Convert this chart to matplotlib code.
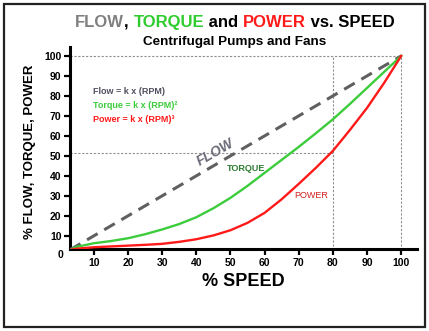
import matplotlib
matplotlib.use("Agg")
import matplotlib.pyplot as plt
from matplotlib.patches import Rectangle

plt.rcParams["font.family"] = ["Liberation Sans", "DejaVu Sans"]
plt.rcParams["font.weight"] = "bold"

# % speed and the three affinity-law curves
speed = [3, 5, 10, 15, 20, 25, 30, 35, 40, 45, 50,
         55, 60, 65, 70, 75, 80, 85, 90, 95, 100]
flow = [3, 5, 10, 15, 20, 25, 30, 35, 40, 45, 50,
        55, 60, 65, 70, 75, 80, 85, 90, 95, 100]
torque = [3, 4.5, 6.3, 7.4, 8.8, 10.8, 13.2, 15.9, 19.3, 23.8, 29,
          35, 41.5, 48, 54.5, 61.3, 68.3, 76, 84, 92, 100]
power = [3, 3.6, 4.3, 4.7, 5.1, 5.5, 6, 7, 8.3, 10.2, 12.8,
         16.5, 21.5, 28.3, 36, 44, 52.5, 63, 74, 86.5, 100]

ticks = [10, 20, 30, 40, 50, 60, 70, 80, 90, 100]
ref_speed = 80
ref_power = 51.2

GRAY = "#606060"
GREEN = "#3ccc3c"
RED = "#ff1a1a"

fig = plt.figure(figsize=(4.29, 3.31), dpi=100)
ax = fig.add_axes([0.163, 0.247, 0.808, 0.61])

# dotted reference lines
dot = dict(color="#909090", lw=0.8, ls=(0, (2, 1.5)), zorder=1)
ax.plot([3, 100], [100, 100], **dot)
ax.plot([100, 100], [3, 100], **dot)
ax.plot([ref_speed, ref_speed], [3, 100], **dot)
ax.plot([3, ref_speed], [ref_power, ref_power], **dot)

ax.plot(speed, flow, color=GRAY, lw=2.2, ls=(0, (4, 2.5)), zorder=3)
ax.plot(speed, torque, color=GREEN, lw=1.7, zorder=4)
ax.plot(speed, power, color=RED, lw=1.7, zorder=5)

ax.set_xlim(3, 104.5)
ax.set_ylim(3.3, 104.3)
ax.set_xticks(ticks)
ax.set_yticks(ticks)
ax.tick_params(direction="out", length=4, width=1.6, labelsize=7.5, pad=2)
for lab in ax.get_xticklabels() + ax.get_yticklabels():
    lab.set_fontweight("bold")
for s in ["top", "right"]:
    ax.spines[s].set_visible(False)
for s in ["left", "bottom"]:
    ax.spines[s].set_linewidth(2.2)

ax.set_xlabel("% SPEED", fontsize=13, fontweight="bold", labelpad=4)
fig.text(0.07, 0.541, "% FLOW, TORQUE, POWER", rotation=90, fontsize=9.5,
         fontweight="bold", ha="center", va="center")
fig.text(60 / 429, 1 - 255 / 331, "0", fontsize=7.5, fontweight="bold",
         ha="center", va="center")

# curve labels
ax.text(45.5, 52, "FLOW", color="#6a6a78", fontsize=10, fontstyle="italic",
        fontweight="bold", rotation=30, ha="center", va="center")
ax.text(54.5, 43.5, "TORQUE", color="#2e7d32", fontsize=6.5, fontweight="bold",
        ha="center", va="center")
ax.text(73.5, 30, "POWER", color="#d02020", fontsize=6.5, fontweight="normal",
        ha="center", va="center")

# formula block
fig.text(93 / 429, 1 - 91 / 331, "Flow = k x (RPM)", color="#505060",
         fontsize=6.5, fontweight="bold", va="center")
fig.text(93 / 429, 1 - 105 / 331, "Torque = k x (RPM)\u00b2", color=GREEN,
         fontsize=6.5, fontweight="bold", va="center")
fig.text(93 / 429, 1 - 120 / 331, "Power = k x (RPM)\u00b3", color=RED,
         fontsize=6.5, fontweight="bold", va="center")

# multicolour title built from pieces
pieces = [("FLOW", "#808080"), (", ", "black"), ("TORQUE", "#2ecc2e"),
          (" and ", "black"), ("POWER", "#ff1a1a"), (" vs. SPEED", "black")]
renderer = fig.canvas.get_renderer()
texts = []
x = 0
for word, col in pieces:
    t = fig.text(x, 1 - 22.5 / 331, word, color=col, fontsize=12,
                 fontweight="bold", va="center", ha="left")
    bb = t.get_window_extent(renderer)
    texts.append(t)
    x += bb.width / fig.bbox.width
start = 235 / 429 - x / 2
for t in texts:
    t.set_x(t.get_position()[0] + start)

fig.text(235 / 429, 1 - 41.5 / 331, "Centrifugal Pumps and Fans", fontsize=9.7,
         fontweight="bold", ha="center", va="center")

# frame round the whole figure
fig.patches.append(Rectangle((4 / 429, 4 / 331), 421 / 429, 323 / 331,
                             transform=fig.transFigure, fill=False,
                             edgecolor="#222222", lw=1.6))

fig.savefig("out.png", dpi=100)
